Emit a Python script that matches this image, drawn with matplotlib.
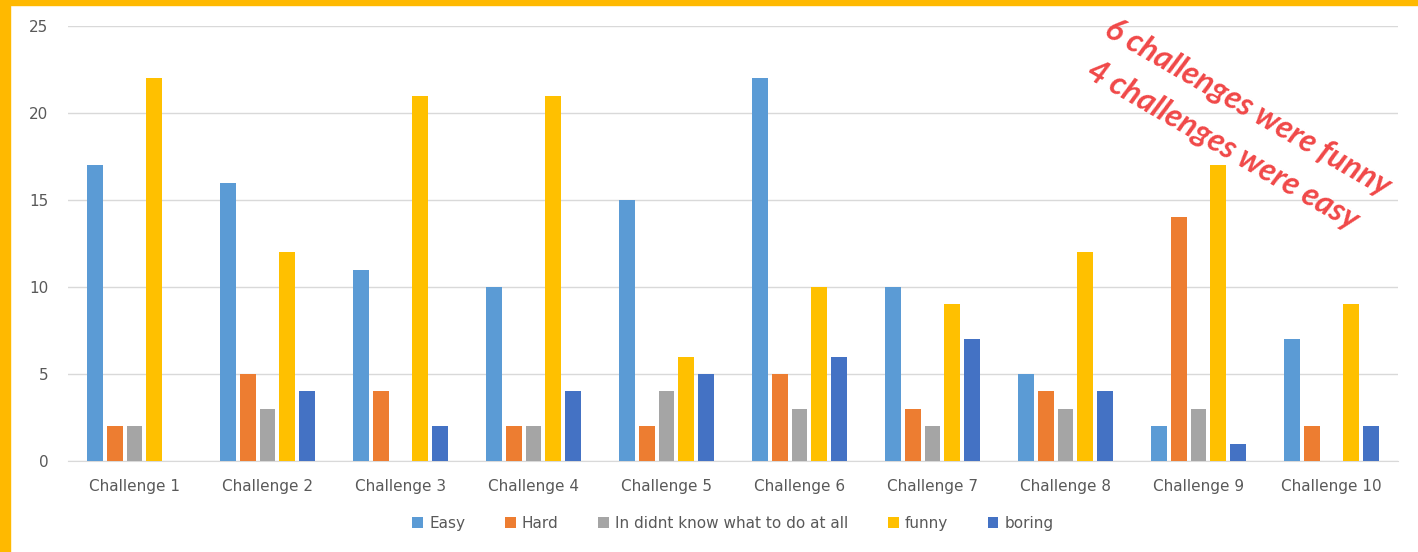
import numpy as np
import matplotlib.pyplot as plt
from matplotlib.patches import Rectangle

# dane z wykresu
challenges = ['Challenge 1', 'Challenge 2', 'Challenge 3', 'Challenge 4', 'Challenge 5',
              'Challenge 6', 'Challenge 7', 'Challenge 8', 'Challenge 9', 'Challenge 10']
easy = [17, 16, 11, 10, 15, 22, 10, 5, 2, 7]
hard = [2, 5, 4, 2, 2, 5, 3, 4, 14, 2]
didnt_know = [2, 3, 0, 2, 4, 3, 2, 3, 3, 0]
funny = [22, 12, 21, 21, 6, 10, 9, 12, 17, 9]
boring = [0, 4, 2, 4, 5, 6, 7, 4, 1, 2]

series = [
    ('Easy', easy, '#5B9BD5'),
    ('Hard', hard, '#ED7D31'),
    ('In didnt know what to do at all', didnt_know, '#A5A5A5'),
    ('funny', funny, '#FFC000'),
    ('boring', boring, '#4472C4'),
]

fig = plt.figure(figsize=(14.18, 5.52), dpi=100)
ax = fig.add_axes([68 / 1418, 1 - 461 / 552, 1330 / 1418, 435 / 552])

x = np.arange(len(challenges))
step = 0.15
width = 0.12
for i, (name, vals, col) in enumerate(series):
    ax.bar(x + (i - 2) * step, vals, width, color=col, label=name, zorder=3)

ax.set_xlim(-0.5, len(challenges) - 0.5)
ax.set_ylim(0, 25)
ax.set_yticks([0, 5, 10, 15, 20, 25])
ax.set_xticks(x)
ax.set_xticklabels(challenges)
ax.tick_params(axis='both', length=0, labelsize=11, colors='#595959')
ax.tick_params(axis='y', pad=14)
ax.tick_params(axis='x', pad=13)
ax.grid(axis='y', color='#D9D9D9', linewidth=1, zorder=0)
for s in ['top', 'right', 'left']:
    ax.spines[s].set_visible(False)
ax.spines['bottom'].set_color('#D9D9D9')

ax.legend(loc='upper center', bbox_to_anchor=(0.5, -0.095), ncol=5, frameon=False,
          fontsize=11, labelcolor='#595959', handlelength=0.7, handleheight=0.7,
          handletextpad=0.4, columnspacing=2.6)

# pomaranczowa ramka
fig.patches.append(Rectangle((0, 0), 10 / 1418, 1, transform=fig.transFigure,
                             color='#FFB900', zorder=10))
fig.patches.append(Rectangle((0, 1 - 5 / 552), 1, 5 / 552, transform=fig.transFigure,
                             color='#FFB900', zorder=10))

# czerwony napis
fig.text(1114 / 1418, 1 - 14 / 552, '6 challenges were funny', rotation=-30,
         rotation_mode='anchor', ha='left', va='top', color='#F04848',
         fontsize=23, fontweight='bold', fontstyle='italic', family='Lato')
fig.text(1096 / 1418, 1 - 56 / 552, '4 challenges were easy', rotation=-30,
         rotation_mode='anchor', ha='left', va='top', color='#F04848',
         fontsize=23, fontweight='bold', fontstyle='italic', family='Lato')

fig.savefig('out.png', dpi=100)
